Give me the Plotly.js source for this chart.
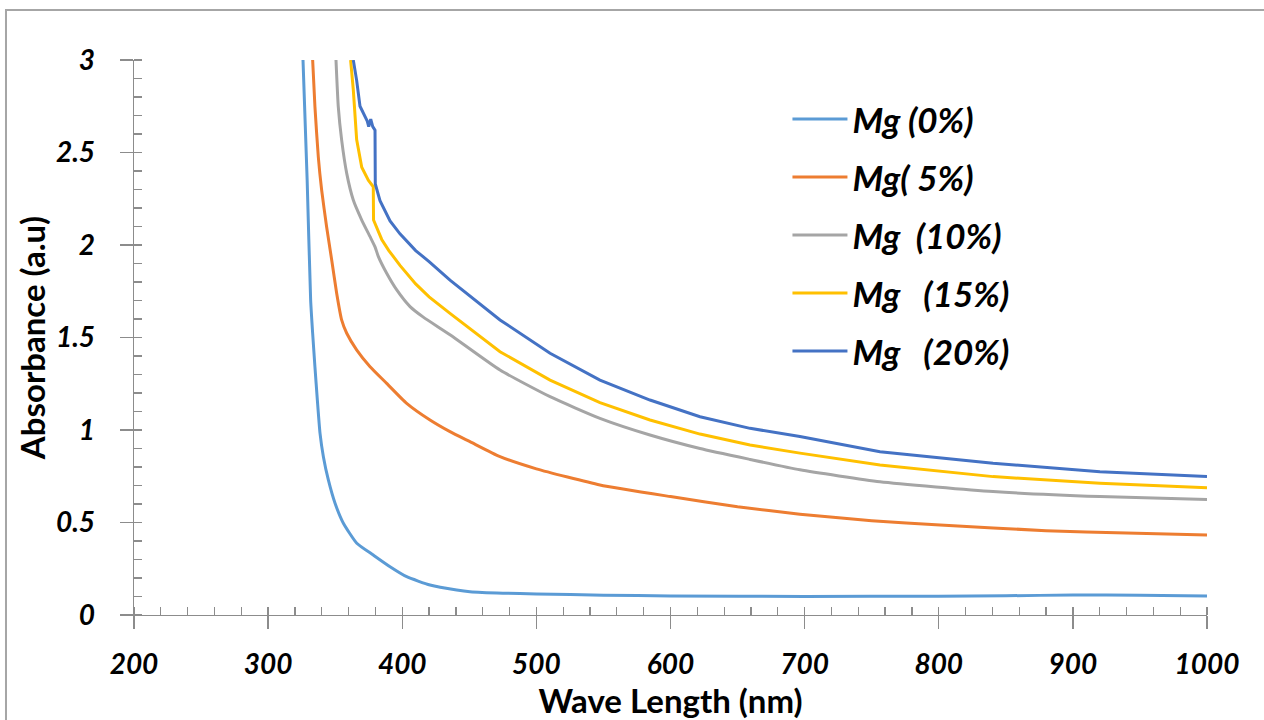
<!DOCTYPE html>
<html>
<head>
<meta charset="utf-8">
<script src="https://cdn.plot.ly/plotly-3.0.1.min.js"></script>
<style>html,body{margin:0;padding:0;background:#fff;}#chart{width:1264px;height:720px;}</style>
</head>
<body>
<div id="chart"></div>
<script>
// Series names
const seriesNames = ['Mg (0%)', 'Mg( 5%)', 'Mg  (10%)', 'Mg   (15%)', 'Mg   (20%)'];
const seriesColors = ['#5B9BD5', '#ED7D31', '#A5A5A5', '#FFC000', '#4472C4'];

// Mg 0%
const wlMg0 = [326, 329.1, 331.7, 333.2, 334.9, 336.7, 338.7, 341.2, 344.9, 349.9, 356.1, 366.1, 378.4, 390.9, 403.3, 420.7, 440.6, 450.5, 475, 500, 550, 600, 700, 800, 850, 900, 950, 1000];
const absMg0 = [3.0, 2.35, 1.703, 1.523, 1.342, 1.162, 0.982, 0.856, 0.730, 0.604, 0.496, 0.388, 0.324, 0.261, 0.207, 0.162, 0.135, 0.126, 0.118, 0.114, 0.107, 0.103, 0.100, 0.102, 0.104, 0.108, 0.107, 0.103];

// Mg 5%
const wlMg5 = [333.2, 334.9, 337.4, 339.9, 343.6, 347.4, 351.1, 354.8, 358.6, 366.1, 376, 388.4, 403.3, 420.7, 435.6, 450.5, 472.9, 500, 547.4, 600, 650, 696.5, 750, 801, 880, 940, 1000];
const absMg5 = [3.0, 2.748, 2.477, 2.297, 2.099, 1.919, 1.739, 1.595, 1.523, 1.432, 1.342, 1.252, 1.144, 1.054, 0.991, 0.937, 0.856, 0.79, 0.703, 0.64, 0.585, 0.545, 0.51, 0.486, 0.456, 0.443, 0.432];

// Mg 10%
const wlMg10 = [350.6, 352.3, 354.8, 358.6, 363.5, 369.8, 376, 379.7, 382.2, 388.4, 395.9, 405.8, 415.7, 435.6, 472.9, 510.2, 547.4, 584.7, 622, 659.3, 696.5, 756.2, 840.5, 920.2, 1000];
const absMg10 = [3.0, 2.748, 2.568, 2.387, 2.243, 2.135, 2.045, 1.99, 1.937, 1.847, 1.757, 1.667, 1.61, 1.515, 1.324, 1.18, 1.063, 0.973, 0.90, 0.841, 0.785, 0.72, 0.667, 0.64, 0.625];

// Mg 15%
const wlMg15 = [361.5, 363.5, 366, 369.8, 374.7, 378.4, 378.6, 384.7, 390, 398.3, 410, 420, 435.6, 472.9, 510.2, 547.4, 584.7, 622, 659.3, 696.5, 756.2, 840.5, 920.2, 1000];
const absMg15 = [3.0, 2.84, 2.57, 2.42, 2.35, 2.315, 2.135, 2.03, 1.97, 1.89, 1.79, 1.72, 1.63, 1.423, 1.27, 1.148, 1.054, 0.978, 0.919, 0.875, 0.811, 0.748, 0.712, 0.688];

// Mg 20%
const wlMg20 = [363.5, 366, 368.5, 372.2, 373.9, 375, 376.5, 378, 379.7, 379.9, 383.4, 390.9, 398.3, 410, 420, 435.6, 472.9, 510.2, 547.4, 584.7, 622, 659.3, 696.5, 756.2, 840.5, 920.2, 1000];
const absMg20 = [3.0, 2.89, 2.75, 2.70, 2.67, 2.64, 2.68, 2.64, 2.62, 2.33, 2.24, 2.13, 2.06, 1.97, 1.91, 1.81, 1.595, 1.415, 1.27, 1.162, 1.072, 1.009, 0.965, 0.883, 0.82, 0.775, 0.748];

const xs = [wlMg0, wlMg5, wlMg10, wlMg15, wlMg20];
const ys = [absMg0, absMg5, absMg10, absMg15, absMg20];
const smooth = [true, true, true, false, false];

const traces = seriesNames.map((n, i) => ({
  x: xs[i], y: ys[i], type: 'scatter', mode: 'lines', name: n.replace(/ /g, '\u00a0'),
  legendgroup: 'g' + i,
  line: smooth[i] ? {color: seriesColors[i], width: 3, shape: 'spline', smoothing: 0.5}
                  : {color: seriesColors[i], width: 3},
  hoverinfo: 'skip'
}));

const axisColor = '#8c8c8c';
const fam = 'Lato, "Open Sans", sans-serif';
const tickFont = {family: fam, size: 28, color: '#000', weight: 'bold', style: 'italic'};
const titleFont = {family: fam, size: 33, color: '#000', weight: 'bold'};

const layout = {
  width: 1264, height: 720,
  margin: {l: 134, r: 57, t: 60, b: 105},
  paper_bgcolor: '#fff', plot_bgcolor: '#fff',
  showlegend: true,
  legend: {
    x: 0.609, y: 0.9464, xanchor: 'left', yanchor: 'top',
    font: {family: fam, size: 35, color: '#000', weight: 'bold', style: 'italic'},
    bgcolor: 'rgba(0,0,0,0)', itemwidth: 55, tracegroupgap: 9.5, traceorder: 'grouped'
  },
  xaxis: {
    range: [200, 1000], tick0: 200, dtick: 100,
    ticks: 'outside', ticklen: 13, tickwidth: 1.3, tickcolor: axisColor,
    showline: true, linecolor: axisColor, linewidth: 1.3,
    showgrid: false, zeroline: false, tickfont: tickFont,
    ticklabelstandoff: 11,
    minor: {ticks: 'inside', ticklen: 8, dtick: 20, tickwidth: 1.3, tickcolor: axisColor, showgrid: false},
    title: {text: 'Wave Length (nm)', font: titleFont, standoff: 0},
    automargin: false
  },
  yaxis: {
    range: [0, 3], tick0: 0, dtick: 0.5,
    ticks: 'outside', ticklen: 13, tickwidth: 1.3, tickcolor: axisColor,
    showline: true, linecolor: axisColor, linewidth: 1.3,
    showgrid: false, zeroline: false, tickfont: tickFont,
    ticklabelstandoff: 19,
    minor: {ticks: 'inside', ticklen: 8, dtick: 0.1, tickwidth: 1.3, tickcolor: axisColor, showgrid: false},
    title: {text: 'Absorbance (a.u)', font: titleFont, standoff: 0},
    automargin: false
  },
  xaxis2: {
    overlaying: 'x', anchor: 'y', range: [200, 1000], tick0: 200, dtick: 100,
    ticks: 'inside', ticklen: 8, tickwidth: 1.3, tickcolor: axisColor,
    showticklabels: false, showline: false, showgrid: false, zeroline: false
  },
  yaxis2: {
    overlaying: 'y', anchor: 'x', side: 'left', range: [0, 3], tick0: 0, dtick: 0.5,
    ticks: 'inside', ticklen: 8, tickwidth: 1.3, tickcolor: axisColor,
    showticklabels: false, showline: false, showgrid: false, zeroline: false
  },
  shapes: [{
    type: 'rect', xref: 'paper', yref: 'paper', layer: 'below',
    x0: -0.1193, x1: 1.3, y0: -0.5, y1: 1.09,
    line: {color: '#a6a6a6', width: 2}, fillcolor: 'rgba(0,0,0,0)'
  }]
};

Plotly.newPlot('chart', traces, layout, {staticPlot: true, displayModeBar: false});
</script>
</body>
</html>
